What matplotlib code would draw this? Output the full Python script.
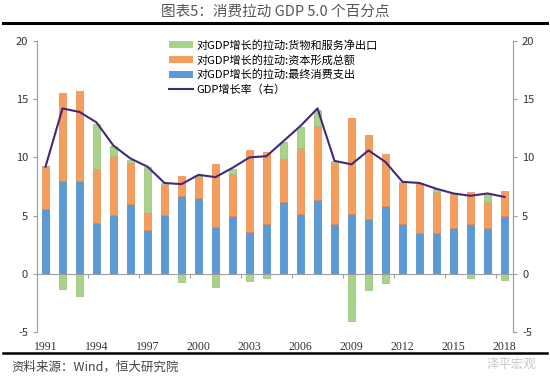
import numpy as np
import matplotlib
matplotlib.use('Agg')
import matplotlib.pyplot as plt
import matplotlib.transforms as mtransforms
from matplotlib.patches import Patch
from matplotlib.lines import Line2D

plt.rcParams['font.family'] = ['Noto Sans CJK SC', 'DejaVu Sans']
plt.rcParams['axes.unicode_minus'] = False

# 数据（从原图读取，估计值）
years = list(range(1991, 2019))
consumption = [5.55, 7.96, 7.96, 4.4, 5.06, 6.03, 3.8, 5.06, 6.67, 6.55,
               4.0, 5.0, 3.6, 4.25, 6.15, 5.17, 6.3, 4.25, 5.17, 4.7,
               5.86, 4.25, 3.5, 3.53, 3.97, 4.25, 3.97, 4.97]
capital = [3.7, 7.54, 7.74, 4.57, 5.04, 3.47, 1.46, 2.6, 1.69, 1.81,
           5.4, 3.6, 7.0, 6.25, 3.75, 5.63, 6.4, 5.25, 8.23, 7.2,
           4.44, 3.51, 4.26, 3.51, 2.87, 2.79, 2.21, 2.16]
net_export = [0.0, -1.3, -1.9, 3.9, 0.9, 0.3, 3.9, 0.1, -0.7, 0.1,
              -1.15, 0.4, -0.6, -0.4, 1.4, 1.8, 1.4, 0.2, -4.05, -1.35,
              -0.8, 0.1, 0.0, 0.2, 0.0, -0.4, 0.7, -0.55]
gdp_growth = [9.2, 14.2, 13.9, 13.0, 11.0, 9.9, 9.2, 7.8, 7.7, 8.5,
              8.3, 9.1, 10.0, 10.1, 11.4, 12.7, 14.2, 9.7, 9.4, 10.6,
              9.6, 7.9, 7.8, 7.3, 6.9, 6.7, 6.9, 6.6]
tick_years = [1991, 1994, 1997, 2000, 2003, 2006, 2009, 2012, 2015, 2018]

c_blue = '#5b9bd5'
c_orange = '#f79d5c'
c_green = '#a9d38a'
c_line = '#44297a'

fig = plt.figure(figsize=(5.5, 3.79), dpi=100)
ax = fig.add_axes([0.0673, 0.124, 0.8654, 0.768])

x = np.arange(len(years))
cons = np.array(consumption)
cap = np.array(capital)
nx = np.array(net_export)

w = 0.42
ax.bar(x, cons, w, color=c_blue, edgecolor='#4a86bf', linewidth=0.5, zorder=2)
ax.bar(x, cap, w, bottom=cons, color=c_orange, edgecolor='#e8894a', linewidth=0.5, zorder=2)
nx_bottom = np.where(nx >= 0, cons + cap, 0)
ax.bar(x, nx, w, bottom=nx_bottom, color=c_green, edgecolor='#93c070', linewidth=0.5, zorder=2)
ax.plot(x, gdp_growth, color=c_line, linewidth=1.5, zorder=3)

ax.set_xlim(-0.5, len(years) - 0.5)
ax.set_ylim(-5, 20)
ax.set_yticks([-5, 0, 5, 10, 15, 20])

ax2 = ax.twinx()
ax2.set_ylim(-5, 20)
ax2.set_yticks([-5, 0, 5, 10, 15, 20])

for a in (ax, ax2):
    a.spines['top'].set_visible(False)
    a.spines['left'].set_color('#a0a0a0')
    a.spines['right'].set_color('#a0a0a0')
    a.tick_params(axis='y', colors='#a0a0a0', labelcolor='#333333',
                  labelsize=8, length=3, width=0.8)
ax2.spines['bottom'].set_visible(False)

ax.spines['bottom'].set_position(('data', 0))
ax.spines['bottom'].set_color('#a0a0a0')
ax.set_xticks(np.arange(2.5, len(years) - 1, 3))
ax.tick_params(axis='x', labelbottom=False, colors='#a0a0a0', length=3, width=0.8)

trans = mtransforms.blended_transform_factory(ax.transData, ax.transAxes)
for yr in tick_years:
    ax.text(years.index(yr), -0.05, str(yr), transform=trans, ha='center',
            va='center', fontsize=8.5, color='#333333',
            family=['Liberation Serif', 'DejaVu Serif'])

# 图例
handles = [Patch(facecolor=c_green, edgecolor='none'),
           Patch(facecolor=c_orange, edgecolor='none'),
           Patch(facecolor=c_blue, edgecolor='none'),
           Line2D([0], [0], color=c_line, linewidth=1.5)]
labels = ['对GDP增长的拉动:货物和服务净出口',
          '对GDP增长的拉动:资本形成总额',
          '对GDP增长的拉动:最终消费支出',
          'GDP增长率（右）']
ax.legend(handles, labels, loc='upper left', bbox_to_anchor=(0.26, 1.03),
          frameon=False, fontsize=8, handlelength=2.2, handleheight=0.6,
          handletextpad=0.3, labelspacing=0.35, borderpad=0.2)

# 标题和线条
fig.text(0.5, 0.968, '图表5：消费拉动 GDP 5.0 个百分点', ha='center', va='center',
         fontsize=10.5, color='#555555')
fig.add_artist(Line2D([0.005, 0.995], [0.94, 0.94], color='black', linewidth=2.2))
fig.add_artist(Line2D([0.005, 0.995], [0.068, 0.068], color='black', linewidth=1.8))
fig.text(0.02, 0.03, '资料来源：Wind，恒大研究院', ha='left', va='center',
         fontsize=9, color='#444444', style='italic')
fig.text(0.975, 0.04, '泽平宏观', ha='right', va='center', fontsize=9,
         color='#c8c8c8')

fig.savefig('out.png', dpi=100)
